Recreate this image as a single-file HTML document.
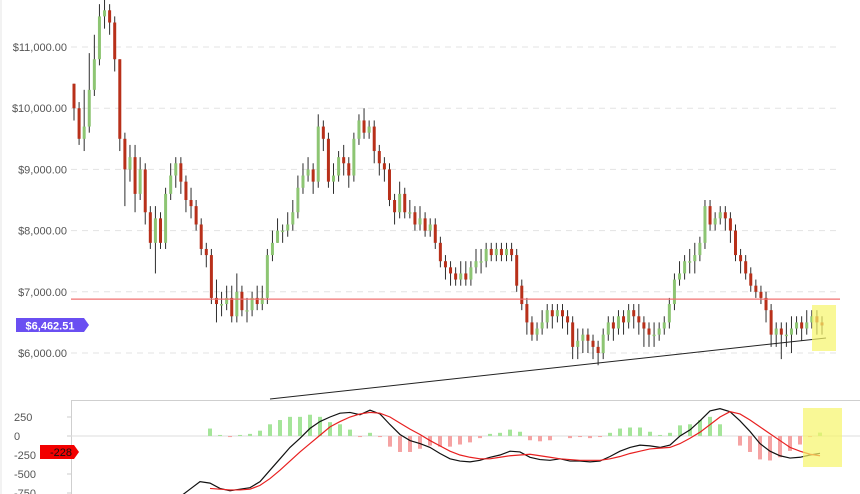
<!DOCTYPE html>
<html><head><meta charset="utf-8"><style>
body{margin:0;background:#fff;}
svg{display:block;font-family:"Liberation Sans",sans-serif;}
</style></head><body>
<svg id="c" width="860" height="494" viewBox="0 0 860 494"></svg>
<script>
const priceTicks=[6000,7000,8000,9000,10000,11000];
const macdTicks=[250,0,-250,-500,-750];
const closes=[10000,9500,9700,10300,10800,11500,11600,11400,10800,9500,
9000,9200,8600,9000,8300,7800,8200,7800,8600,8900,
9100,8800,8500,8400,8100,7700,7600,6900,6800,6800,
6900,6600,7000,6700,6700,6900,6800,6900,7600,7800,
8000,8000,8100,8300,8700,8900,9000,8800,9700,9500,
8800,8900,9200,9100,8900,9500,9800,9600,9700,9300,
9100,9000,8500,8300,8600,8300,8300,8100,8200,8000,
8100,7800,7500,7400,7300,7200,7300,7200,7400,7500,
7500,7700,7600,7700,7600,7700,7600,7100,6800,6500,
6300,6400,6500,6700,6600,6700,6600,6500,6100,6200,
6300,6200,6100,6000,6300,6500,6400,6600,6500,6700,
6600,6500,6400,6300,6300,6400,6500,6800,7200,7300,
7500,7500,7600,7800,8400,8100,8200,8300,8200,8000,
7600,7500,7300,7100,7000,6900,6700,6300,6400,6300,
6300,6400,6500,6400,6500,6600,6500,6450];
const highs=[10400,10100,10300,10900,11200,11700,11800,11700,11500,10800,
9600,9400,9400,9200,9100,8400,8400,8300,8700,9100,
9200,9200,8900,8700,8500,8200,7800,7700,7200,7000,
7100,7100,7300,7100,6900,7000,7100,7100,7700,8000,
8200,8100,8300,8500,8900,9100,9200,9100,9900,9800,
9600,9100,9300,9400,9200,9600,9900,10000,9800,9800,
9400,9200,9100,8600,8800,8700,8500,8400,8400,8300,
8200,8200,7900,7600,7500,7400,7500,7500,7500,7700,
7700,7800,7800,7800,7800,7800,7800,7700,7200,6900,
6600,6500,6700,6800,6800,6800,6800,6700,6600,6400,
6400,6400,6300,6200,6400,6600,6600,6700,6700,6800,
6800,6800,6600,6500,6500,6500,6600,6900,7300,7500,
7600,7700,7800,7900,8500,8500,8300,8400,8400,8300,
8100,7700,7600,7400,7200,7100,7000,6800,6500,6500,
6500,6600,6600,6600,6700,6700,6700,6600];
const lows=[9800,9400,9300,9600,10200,10700,11300,11200,10600,9300,
8400,8800,8300,8500,8100,7700,7300,7700,7700,8500,
8700,8600,8300,8200,8000,7600,7400,6800,6500,6600,
6700,6500,6500,6600,6500,6600,6700,6700,6800,7500,
7800,7800,7900,8000,8200,8600,8800,8600,8700,9300,
8700,8600,8800,8900,8700,8800,9400,9500,9500,9100,
8900,8800,8400,8100,8200,8200,8200,8000,8000,7900,
7900,7700,7400,7200,7100,7100,7100,7100,7100,7300,
7300,7400,7500,7500,7500,7500,7500,7000,6700,6300,
6200,6200,6300,6400,6400,6500,6400,6300,5900,5900,
6000,6000,5900,5800,5900,6200,6200,6300,6300,6400,
6400,6300,6100,6100,6100,6200,6300,6400,6700,7100,
7200,7300,7300,7500,7700,8000,8000,8100,8000,7800,
7500,7300,7200,7000,6900,6800,6500,6100,6100,5900,
6100,6000,6300,6200,6300,6400,6300,6300];
const firstOpen=10400;
const macd=[-800,-700,-600,-620,-690,-720,-700,-680,-600,-450,
-300,-150,-30,100,190,250,300,310,280,340,
290,150,20,-60,-100,-150,-230,-300,-330,-340,
-320,-280,-250,-200,-210,-280,-310,-320,-300,-330,
-330,-340,-330,-270,-200,-150,-120,-130,-150,-120,
0,80,200,330,360,320,200,60,-100,-200,
-260,-290,-280,-250,-228];
const signal=[-690,-700,-710,-710,-700,-650,-560,-450,-330,-210,
-100,10,120,190,250,290,310,300,250,170,
90,20,-60,-130,-200,-250,-280,-300,-300,-280,
-260,-250,-240,-260,-280,-300,-310,-320,-320,-320,
-300,-270,-230,-200,-170,-160,-150,-100,-30,50,
150,250,320,290,210,120,30,-60,-150,-200,
-240,-260];
const lastPrice=6462.51, lastMacd=-228, resistance=6880;

const NS="http://www.w3.org/2000/svg", svg=document.getElementById('c');
function el(t,a,p){const e=document.createElementNS(NS,t);for(const k in a)e.setAttribute(k,a[k]);(p||svg).appendChild(e);return e;}
const X0=71,X1=840;
const py=v=>47+(11000-v)*0.0612;
const cx=i=>74+i*(822-74)/(closes.length-1);
const my=v=>436-v*0.076;
const mx=i=>180+i*10;
const histScale=1.4;

priceTicks.forEach(t=>{
 const g=el('line',{x1:X0,x2:X1,y1:py(t),y2:py(t),stroke:'#e3e3e3','stroke-dasharray':'6,5'});
 
 const tx=el('text',{x:67,y:py(t)+4,'text-anchor':'end','font-size':11,fill:'#555'});
 tx.textContent='$'+t.toLocaleString('en-US')+'.00';
 
});
let b=el('line',{x1:1,x2:1,y1:0,y2:494,stroke:'#e6e6e6'});
const cg=el('g',{});
closes.forEach((c,i)=>{
 const o=i?closes[i-1]:firstOpen,x=cx(i);
 const w=el('line',{x1:x,x2:x,y1:py(highs[i]),y2:py(lows[i]),stroke:'#2d2d2d','stroke-width':1},cg);
 
 const top=py(Math.max(o,c)),h=Math.max(1.5,Math.abs(py(o)-py(c)));
 const r=el('rect',{x:x-1.5,y:top,width:3,height:h,fill:c>=o?'#8dc573':'#b8301a'},cg);
 
});
let rl=el('line',{x1:X0,x2:X1,y1:py(resistance),y2:py(resistance),stroke:'#f07070','stroke-width':1.3});

let tl=el('line',{x1:270,y1:399,x2:826,y2:338,stroke:'#222','stroke-width':1});

let y1=el('rect',{x:812,y:305,width:24,height:46,fill:'#f7f56a',opacity:0.7});

let pl=el('path',{d:'M16 318 H84 L89 325 L84 332 H16 Z',fill:'#6a4ff2'});

let pt=el('text',{x:50,y:329.5,'text-anchor':'middle','font-size':11,fill:'#fff','font-weight':'bold'});
pt.textContent='$'+lastPrice.toLocaleString('en-US',{minimumFractionDigits:2});


let sep=el('line',{x1:X0,x2:860,y1:400.5,y2:400.5,stroke:'#cfcfcf'});
let va=el('line',{x1:X0+.5,x2:X0+.5,y1:400,y2:494,stroke:'#cfcfcf'});
let zl=el('line',{x1:X0,x2:860,y1:my(0),y2:my(0),stroke:'#ddd'});
macdTicks.forEach(t=>{
 const tx=el('text',{x:14,y:my(t)+4,'font-size':11,fill:'#555'});tx.textContent=t;
 
 const tk=el('line',{x1:X0-4,x2:X0,y1:my(t),y2:my(t),stroke:'#ccc'});
});
el('clipPath',{id:'mc'});el('rect',{x:X0+1,y:401,width:789,height:93},svg.lastChild);
const mg=el('g',{'clip-path':'url(#mc)'});
signal.forEach((s,j)=>{
 const i=j+3,h=(macd[i]-s)*histScale,x=mx(i);
 const r=el('rect',{x:x-2,y:Math.min(my(0),my(h)),width:4,height:Math.abs(my(h)-my(0)),fill:h>=0?'#a5e59a':'#f5a3a3'},mg);
 
});
let ml=el('polyline',{points:macd.map((v,i)=>mx(i)+','+my(v)).join(' '),fill:'none',stroke:'#111','stroke-width':1.2},mg);

let sl=el('polyline',{points:signal.map((v,j)=>mx(j+3)+','+my(v)).join(' '),fill:'none',stroke:'#e82020','stroke-width':1.2},mg);

let y2=el('rect',{x:803,y:408,width:39,height:59,fill:'#f7f56a',opacity:0.7});

let ml2=el('path',{d:'M40 445 H74 L79 452 L74 459 H40 Z',fill:'#f20000'});

let mt=el('text',{x:61,y:456,'text-anchor':'middle','font-size':11,fill:'#111'});mt.textContent=lastMacd;

</script>
</body></html>
